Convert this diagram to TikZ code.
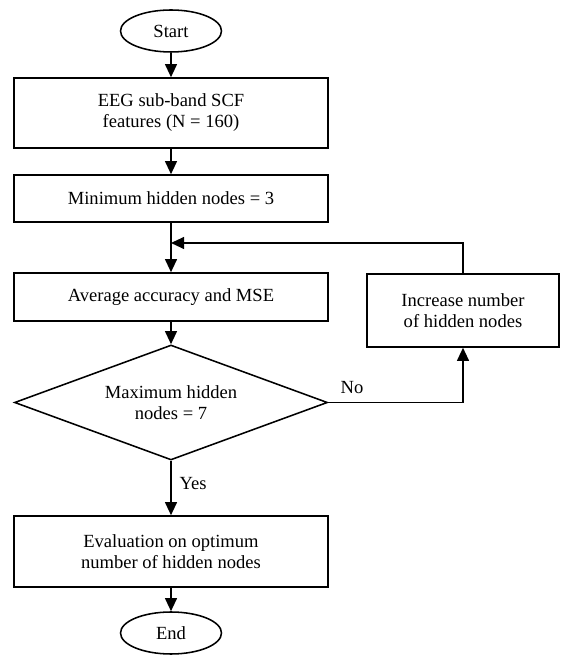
\documentclass[tikz,border=0pt]{standalone}
\usepackage{fontspec}
\setmainfont{Liberation Serif}
\usetikzlibrary{shapes.geometric, arrows.meta}

\begin{document}
\begin{tikzpicture}[
    font=\fontsize{13.2pt}{15pt}\selectfont,
    line width=1.1pt,
    procbox/.style={draw, rectangle, align=center, minimum width=7.85cm},
    termbox/.style={draw, ellipse, minimum width=2.525cm, minimum height=1.05cm, inner sep=0pt},
    flow/.style={-{Triangle[length=0.33cm, width=0.3cm]}}
]
    \useasboundingbox (0, 0) rectangle (14, 16.375);
    \node [termbox] (start) at (4.275, 15.6) {Start};
    \node [procbox, minimum height=1.75cm] (feat) at (4.275, 13.55) {EEG sub-band SCF\\features (N = 160)};
    \node [procbox, minimum height=1.175cm] (minnodes) at (4.275, 11.4125) {Minimum hidden nodes = 3};
    \coordinate (join) at (4.275, 10.3);
    \node [procbox, minimum height=1.2cm] (avg) at (4.275, 8.95) {Average accuracy and MSE};
    \node [procbox, minimum width=4.8cm, minimum height=1.825cm] (incr) at (11.575, 8.6125) {Increase number\\of hidden nodes};
    \node [draw, diamond, align=center, aspect=2.7, inner sep=0pt, minimum width=7.825cm, minimum height=2.875cm] (check) at (4.275, 6.3125) {Maximum hidden\\nodes = 7};
    \node [procbox, minimum height=1.775cm] (evalbox) at (4.275, 2.5875) {Evaluation on optimum\\number of hidden nodes};
    \node [termbox] (end) at (4.275, 0.55) {End};

    \draw [flow] (start) -- (feat);
    \draw [flow] (feat) -- (minnodes);
    \draw [flow] (minnodes) -- (avg);
    \draw [flow] (incr.north) |- (join);
    \draw [flow] (avg) -- (check);
    \draw [flow] (check.east) -| (incr.south);
    \node (nolabel) at (8.8, 6.675) {No};
    \draw [flow] (check) -- (evalbox);
    \node (yeslabel) at (4.825, 4.275) {Yes};
    \draw [flow] (evalbox) -- (end);
\end{tikzpicture}
\end{document}
